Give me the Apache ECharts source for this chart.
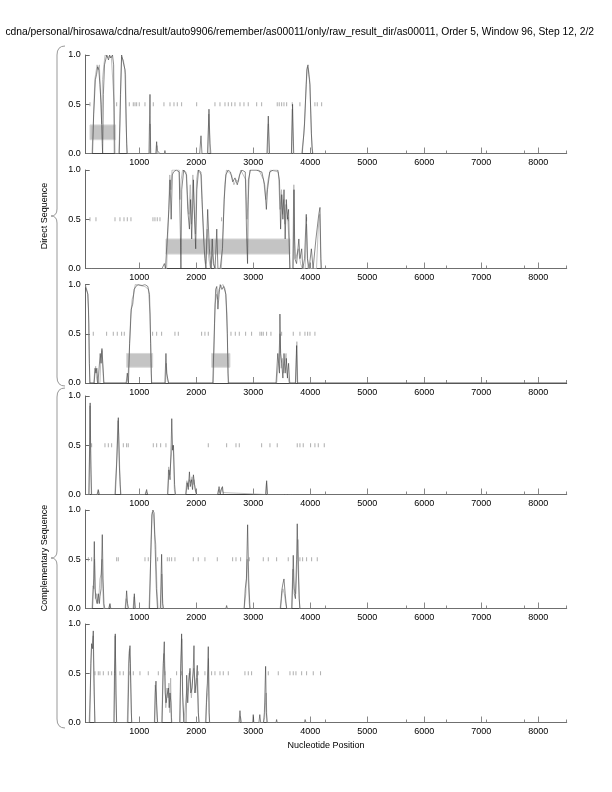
<!DOCTYPE html>
<html><head><meta charset="utf-8">
<script src="https://cdn.jsdelivr.net/npm/echarts@6/dist/echarts.min.js"></script>
<style>html,body{margin:0;padding:0;background:#fff}#c{width:612px;height:792px}</style>
</head><body><div id="c"></div>
<script>
const titleText = "cdna/personal/hirosawa/cdna/result/auto9906/remember/as00011/only/raw_result_dir/as00011, Order 5, Window 96, Step 12, 2/2";
const xMajorTicks = [1000, 2000, 3000, 4000, 5000, 6000, 7000, 8000];
const xMinorTicks = [4270, 5680, 6390, 7080, 7750, 8500];
const yTicks = [0, 0.5, 1.0];

const p1Dark = [[60,0],[180,0],[200,0.4],[230,0.75],[250,0.8],[270,0.88],[290,0.85],[310,0.7],[330,0.5],[350,0.1],[357,0],[370,0.6],[390,0.9],[410,0.95],[430,1.0],[460,0.95],[480,1.0],[500,0.97],[530,1.0],[550,0.9],[562,0.0],[575,0],[650,0],[670,0.6],[690,1.0],[710,0.95],[730,0.9],[750,0.85],[770,0.3],[785,0],[1170,0],[1188,0.6],[1200,0],[1290,0],[1305,0.12],[1315,0.03],[1340,0.05],[1360,0],[1440,0],[1450,0.03],[1460,0],[2060,0],[2083,0.18],[2100,0],[2200,0],[2223,0.45],[2245,0],[3240,0],[3264,0.38],[3285,0],[3670,0],[3690,0.5],[3710,0],[3860,0],[3900,0.3],[3940,0.85],[3960,0.9],[3975,0.8],[3995,0.7],[4020,0.2],[4040,0],[8500,0]];
const p1Gray = [[60,0],[170,0],[193,0.3],[220,0.75],[260,0.9],[280,0.85],[300,0.9],[320,0.6],[340,0.3],[355,0.75],[380,0.9],[400,1.0],[440,0.98],[470,1.0],[510,0.98],[545,1.0],[560,0.5],[575,0],[640,0],[660,0.3],[690,0.98],[720,0.95],[740,0.93],[760,0.8],[778,0.1],[790,0],[1180,0],[1190,0.3],[1200,0],[1300,0],[1310,0.08],[1320,0],[2200,0],[2220,0.4],[2240,0.1],[2260,0],[3250,0],[3265,0.3],[3280,0],[3670,0],[3685,0.45],[3700,0],[3850,0],[3890,0.2],[3930,0.7],[3950,0.88],[3970,0.85],[3990,0.75],[4010,0.4],[4030,0.05],[4050,0],[8500,0]];
const p1Marks = [135,603,825,895,925,954,1000,1100,1246,1433,1539,1609,1667,1743,2007,2328,2416,2504,2562,2621,2679,2767,2837,2912,3060,3147,3421,3456,3498,3539,3586,3684,3819,4082,4123,4200];
const p1Boxes = [[135,585,0.14,0.29]];

const p2Dark = [[60,0],[120,0],[140,0.02],[160,0],[1400,0],[1440,0.05],[1460,0],[1490,0],[1520,0.6],[1540,0.9],[1560,0.5],[1580,0.95],[1600,0.98],[1650,1.0],[1700,0.98],[1720,0.4],[1731,0],[1745,0.8],[1780,1.0],[1830,0.95],[1850,0.6],[1880,0.4],[1900,0.7],[1920,0.3],[1950,0.9],[1970,0.5],[1990,0.2],[2010,0.8],[2040,1.0],[2080,0.98],[2100,0.7],[2130,0.3],[2150,0.1],[2170,0],[2200,0.6],[2230,0.2],[2260,0],[2280,0.3],[2300,0.05],[2330,0],[2360,0.4],[2380,0],[2420,0],[2460,0.2],[2490,0.7],[2520,0.95],[2560,1.0],[2600,0.98],[2640,0.88],[2680,0.92],[2720,0.85],[2760,0.95],[2800,1.0],[2860,0.98],[2885,0.3],[2900,0.05],[2915,0.9],[2950,1.0],[3050,1.0],[3150,0.98],[3200,0.85],[3230,0.6],[3250,0.8],[3290,0.98],[3350,1.0],[3430,1.0],[3460,0.9],[3480,0.4],[3500,0.75],[3520,0.5],[3540,0.8],[3560,0.3],[3580,0.7],[3600,0.5],[3620,0.6],[3640,0],[3700,0],[3715,0.8],[3730,0.1],[3760,0.05],[3800,0.3],[3820,0.1],[3850,0.2],[3870,0],[3900,0.1],[3930,0.55],[3950,0.1],[3980,0],[4000,0],[4020,0.2],[4050,0],[4100,0.3],[4150,0.55],[4171,0.62],[4190,0],[8500,0]];
const p2Gray = [[60,0],[1480,0],[1510,0.5],[1535,0.95],[1555,0.8],[1575,1.0],[1640,1.0],[1700,1.0],[1715,0.7],[1735,0.9],[1760,1.0],[1820,0.98],[1845,0.75],[1870,0.55],[1895,0.85],[1915,0.45],[1940,0.95],[1965,0.6],[1985,0.35],[2005,0.9],[2030,1.0],[2090,0.95],[2110,0.6],[2140,0.25],[2165,0.05],[2190,0.4],[2220,0.1],[2250,0],[2290,0.15],[2320,0],[2440,0],[2470,0.4],[2500,0.85],[2530,1.0],[2620,0.95],[2660,0.85],[2700,0.9],[2740,0.88],[2780,1.0],[2870,0.9],[2890,0.5],[2910,0.7],[2940,1.0],[3100,1.0],[3180,0.9],[3220,0.7],[3260,0.9],[3300,1.0],[3440,0.98],[3470,0.6],[3495,0.8],[3515,0.55],[3535,0.7],[3555,0.45],[3575,0.65],[3600,0.55],[3625,0.3],[3650,0],[3690,0],[3712,0.85],[3725,0.3],[3745,0.1],[3790,0.2],[3830,0.05],[3860,0],[3910,0],[3935,0.45],[3960,0],[4110,0],[4140,0.4],[4165,0.55],[4185,0.1],[4200,0],[8500,0]];
const p2Marks = [135,240,574,661,732,790,854,1240,1275,1316,1363,2445,3614,3936];
const p2Boxes = [[1468,3644,0.146,0.30]];

const p3Dark = [[60,0.97],[80,0.95],[100,0.9],[115,0.6],[125,0.2],[135,0],[210,0],[225,0.15],[240,0.1],[255,0.15],[275,0],[300,0],[315,0.3],[330,0.2],[345,0.35],[360,0.2],[380,0],[770,0],[790,0.1],[810,0],[830,0.4],[860,0.75],[885,0.8],[910,0.95],[940,0.98],[980,1.0],[1050,0.99],[1100,1.0],[1150,0.98],[1180,0.9],[1200,0.4],[1215,0],[1450,0],[1468,0.3],[1480,0.1],[1500,0.08],[1515,0],[2290,0],[2320,0.6],[2340,0.95],[2360,0.98],[2380,0.75],[2400,0.9],[2420,1.0],[2450,0.95],[2480,0.98],[2520,0.9],[2545,0.5],[2562,0],[3400,0],[3430,0.3],[3460,0.1],[3468,0.7],[3480,0.3],[3500,0.2],[3520,0.05],[3540,0.3],[3560,0.1],[3580,0.25],[3600,0.05],[3620,0.2],[3640,0],[3740,0],[3761,0.38],[3775,0],[8500,0]];
const p3Gray = [[60,0.99],[90,0.92],[110,0.75],[120,0.3],[130,0],[200,0],[215,0.1],[235,0.17],[250,0.05],[270,0],[310,0],[325,0.25],[345,0.33],[365,0.1],[375,0],[780,0],[800,0.05],[825,0.3],[850,0.7],[875,0.85],[900,0.9],[930,1.0],[1100,0.98],[1160,0.95],[1190,0.7],[1210,0.1],[1220,0],[1460,0],[1475,0.2],[1490,0.05],[1510,0],[2300,0],[2330,0.8],[2355,0.9],[2375,0.85],[2395,0.95],[2430,0.98],[2470,1.0],[2510,0.95],[2540,0.7],[2555,0.1],[2570,0],[3410,0],[3440,0.2],[3470,0.5],[3490,0.15],[3510,0.25],[3530,0.1],[3550,0.2],[3575,0.3],[3595,0.1],[3630,0],[3745,0],[3765,0.42],[3780,0],[8500,0]];
const p3Marks = [193,427,544,614,690,737,1234,1305,1392,1626,1685,2094,2152,2211,2609,2685,2755,2866,2971,3117,3147,3176,3234,3310,3498,3702,3819,3907,3954,3995,4082];
const p3Boxes = [[778,1235,0.16,0.30],[2269,2591,0.16,0.30]];

const p4Dark = [[60,0],[115,0],[130,0.5],[138,0.93],[150,0.3],[160,0],[260,0],[280,0.05],[295,0],[580,0],[610,0.4],[632,0.78],[650,0.3],[673,0],[1110,0],[1129,0.05],[1145,0],[1500,0],[1520,0.25],[1540,0.15],[1560,0.5],[1570,0.77],[1585,0.45],[1600,0.5],[1620,0.1],[1635,0],[1820,0],[1840,0.12],[1860,0.05],[1880,0.23],[1895,0.08],[1915,0.15],[1935,0.05],[1950,0.2],[1970,0.1],[1990,0.03],[2010,0],[2380,0],[2400,0.08],[2420,0],[2440,0.05],[2460,0.08],[2475,0],[3220,0],[3235,0.14],[3250,0],[3650,0],[3670,0.02],[3690,0],[8500,0]];
const p4Gray = [[60,0],[120,0],[133,0.9],[145,0.5],[155,0.2],[165,0],[270,0],[285,0.04],[300,0],[570,0],[600,0.3],[625,0.75],[640,0.6],[665,0.1],[680,0],[1100,0],[1120,0.03],[1140,0.05],[1155,0],[1495,0],[1515,0.28],[1535,0.2],[1555,0.35],[1580,0.5],[1600,0.45],[1615,0.05],[1630,0],[1810,0],[1835,0.14],[1855,0.08],[1875,0.15],[1900,0.12],[1925,0.18],[1945,0.1],[1960,0.15],[1980,0.05],[2000,0],[2370,0],[2390,0.05],[2410,0.02],[2450,0.07],[2470,0.02],[2480,0],[3215,0],[3232,0.12],[3245,0],[3550,0],[3570,0.02],[3600,0],[8500,0]];
const p4Marks = [164,398,457,515,720,778,807,1246,1305,1375,1468,2211,2533,2697,2755,3147,3293,3421,3772,3819,3877,4006,4082,4141,4246];
const p4Boxes = [];

const p5Dark = [[60,0],[180,0],[200,0.3],[211,0.68],[225,0.2],[240,0.1],[260,0.05],[281,0.15],[300,0.05],[310,0.12],[330,0.2],[351,0.75],[365,0.3],[380,0.05],[395,0],[470,0],[486,0.05],[500,0],[760,0],[778,0.18],[795,0.05],[810,0],[900,0],[913,0.15],[930,0],[1180,0],[1200,0.5],[1220,0.95],[1240,1.0],[1260,0.97],[1280,0.6],[1300,0.2],[1320,0],[1370,0],[1392,0.55],[1410,0.05],[1425,0],[2520,0],[2533,0.03],[2545,0],[2840,0],[2860,0.2],[2880,0.3],[2901,0.85],[2920,0.3],[2942,0],[3480,0],[3500,0.18],[3520,0.25],[3539,0.3],[3560,0.15],[3585,0],[3680,0],[3702,0.54],[3720,0.15],[3740,0.1],[3760,0.5],[3772,0.86],[3790,0.4],[3805,0.1],[3820,0],[8500,0]];
const p5Gray = [[60,0],[170,0],[190,0.23],[205,0.2],[215,0.5],[230,0.1],[250,0.15],[270,0.05],[290,0.1],[310,0.3],[330,0.35],[345,0.5],[360,0.2],[375,0],[460,0],[480,0.04],[495,0],[750,0],[770,0.1],[790,0.08],[805,0],[890,0],[910,0.12],[925,0],[1170,0],[1190,0.3],[1210,0.7],[1230,0.98],[1250,0.95],[1270,0.75],[1290,0.65],[1310,0.2],[1330,0],[1380,0],[1395,0.35],[1415,0],[2840,0],[2870,0.15],[2895,0.5],[2910,0.3],[2930,0.05],[2945,0],[3470,0],[3495,0.1],[3520,0.2],[3545,0.15],[3570,0.05],[3590,0],[3670,0],[3695,0.4],[3715,0.2],[3745,0.15],[3765,0.4],[3785,0.7],[3800,0.3],[3815,0],[8500,0]];
const p5Marks = [106,164,603,632,1100,1158,1322,1492,1527,1568,1626,1948,2035,2152,2369,2638,2697,2778,2930,3176,3264,3410,3614,3819,3866,3936,4024,4123];
const p5Boxes = [];

const p6Dark = [[60,0],[130,0],[150,0.6],[164,0.8],[180,0.75],[193,0.93],[210,0.3],[222,0],[555,0],[565,0.5],[579,0.9],[590,0.3],[603,0],[800,0],[820,0.6],[837,0.78],[850,0.4],[866,0],[1270,0],[1282,0.3],[1293,0.42],[1305,0.2],[1322,0],[1400,0],[1422,0.6],[1439,0.82],[1455,0.3],[1470,0.2],[1490,0.28],[1510,0.35],[1525,0.15],[1539,0.3],[1555,0.2],[1565,0],[1710,0],[1725,0.5],[1743,0.9],[1760,0.3],[1784,0],[1820,0],[1832,0.48],[1850,0.2],[1870,0.4],[1890,0.55],[1905,0.3],[1925,0.35],[1945,0.5],[1960,0.78],[1975,0.3],[1995,0.4],[2018,0.58],[2035,0.1],[2050,0],[2170,0],[2182,0.3],[2195,0.4],[2211,0.77],[2225,0.1],[2235,0],[2750,0],[2767,0.12],[2785,0],[2990,0],[3000,0.08],[3010,0],[3100,0],[3115,0.08],[3130,0],[3180,0],[3195,0.1],[3205,0.3],[3217,0.57],[3230,0.1],[3245,0],[3400,0],[3410,0.03],[3420,0],[3900,0],[3910,0.03],[3925,0],[8500,0]];
const p6Gray = [[60,0],[120,0],[140,0.3],[160,0.75],[175,0.8],[190,0.88],[205,0.4],[220,0],[560,0],[575,0.88],[590,0.5],[600,0],[790,0],[815,0.7],[830,0.75],[845,0.6],[860,0.1],[870,0],[1265,0],[1280,0.38],[1295,0.3],[1310,0.05],[1320,0],[1395,0],[1415,0.5],[1430,0.7],[1450,0.5],[1465,0.15],[1485,0.35],[1505,0.25],[1520,0.4],[1535,0.1],[1550,0.45],[1565,0.05],[1575,0],[1715,0],[1730,0.6],[1748,0.85],[1765,0.2],[1780,0],[1815,0],[1830,0.3],[1850,0.35],[1875,0.5],[1895,0.4],[1915,0.25],[1935,0.45],[1955,0.55],[1970,0.45],[1990,0.3],[2010,0.45],[2030,0.25],[2045,0],[2160,0],[2180,0.2],[2200,0.3],[2215,0.65],[2230,0],[2760,0],[2775,0.06],[2790,0],[3180,0],[3200,0.05],[3215,0.2],[3228,0.3],[3240,0],[8500,0]];
const p6Marks = [223,281,310,369,457,515,574,661,720,837,895,1012,1158,1334,1451,1655,1743,1889,2035,2152,2269,2328,2416,2474,2562,2854,2913,2971,3264,3439,3644,3702,3749,3849,3936,4053,4181];
const p6Boxes = [];

const panels = [
  {dark:p1Dark, gray:p1Gray, marks:p1Marks, boxes:p1Boxes},
  {dark:p2Dark, gray:p2Gray, marks:p2Marks, boxes:p2Boxes},
  {dark:p3Dark, gray:p3Gray, marks:p3Marks, boxes:p3Boxes},
  {dark:p4Dark, gray:p4Gray, marks:p4Marks, boxes:p4Boxes},
  {dark:p5Dark, gray:p5Gray, marks:p5Marks, boxes:p5Boxes},
  {dark:p6Dark, gray:p6Gray, marks:p6Marks, boxes:p6Boxes}
];

// layout (pixels)
const gridTops = [55, 170, 284.5, 396, 510, 624];
const gridH = 98.5;
const gridLeft = 85.7, gridW = 481;
const FONT = "Liberation Sans, Arial, Helvetica, sans-serif";

const grids = [], xAxes = [], yAxes = [], series = [];
panels.forEach((p, i) => {
  grids.push({left: gridLeft, top: gridTops[i], width: gridW, height: gridH});
  xAxes.push({
    type: 'value', gridIndex: i, min: 60, max: 8500, position: 'bottom',
    axisLine: {show: true, lineStyle: {color: '#444', width: 1}},
    axisTick: {show: true, inside: true, length: 6, customValues: xMajorTicks, lineStyle: {color: '#888', width: 1}},
    axisLabel: {show: true, customValues: xMajorTicks, fontSize: 9, color: '#000', fontFamily: FONT, margin: 5, formatter: v => String(v)},
    splitLine: {show: false}
  });
  xAxes.push({
    type: 'value', gridIndex: i, min: 60, max: 8500, position: 'bottom',
    axisLine: {show: false},
    axisTick: {show: true, inside: true, length: 3, customValues: xMinorTicks, lineStyle: {color: '#888', width: 1}},
    axisLabel: {show: false},
    splitLine: {show: false}
  });
  yAxes.push({
    type: 'value', gridIndex: i, min: 0, max: 1, interval: 0.5,
    axisLine: {show: true, lineStyle: {color: '#666', width: 1}},
    axisTick: {show: true, inside: true, length: 4, lineStyle: {color: '#666'}},
    axisLabel: {fontSize: 9, color: '#000', fontFamily: FONT, margin: 5, formatter: v => v.toFixed(1)},
    splitLine: {show: false}
  });
  series.push({
    type: 'custom', xAxisIndex: 2*i, yAxisIndex: i, z: 1,
    data: p.boxes,
    renderItem: (params, api) => {
      const a = api.coord([api.value(0), api.value(3)]);
      const b = api.coord([api.value(1), api.value(2)]);
      return {type: 'rect', shape: {x: a[0], y: a[1], width: b[0]-a[0], height: b[1]-a[1]},
              style: {fill: '#c4c4c4', stroke: '#d8d8d8', lineWidth: 1}};
    },
    silent: true
  });
  series.push({
    type: 'scatter', xAxisIndex: 2*i, yAxisIndex: i, z: 2,
    data: p.marks.map(x => [x, 0.5]),
    symbol: 'rect', symbolSize: [1, 4],
    itemStyle: {color: '#9a9a9a'}, silent: true
  });
  series.push({
    type: 'line', xAxisIndex: 2*i, yAxisIndex: i, z: 3,
    data: p.gray, showSymbol: false, symbol: 'none',
    lineStyle: {color: '#b0b0b0', width: 0.8}, silent: true
  });
  series.push({
    type: 'line', xAxisIndex: 2*i, yAxisIndex: i, z: 4,
    data: p.dark, showSymbol: false, symbol: 'none',
    lineStyle: {color: '#3a3a3a', width: 0.6}, silent: true
  });
});

function brace(y0, ym, y1) {
  const xr = 65, xl = 57, xt = 51;
  const st = {stroke: '#999', lineWidth: 1, fill: null};
  return [
    {type: 'bezierCurve', shape: {x1: xr, y1: y0, cpx1: xl, cpy1: y0, x2: xl, y2: y0 + 9}, style: st},
    {type: 'line', shape: {x1: xl, y1: y0 + 9, x2: xl, y2: ym - 7}, style: st},
    {type: 'bezierCurve', shape: {x1: xl, y1: ym - 7, cpx1: xl, cpy1: ym, x2: xt, y2: ym}, style: st},
    {type: 'bezierCurve', shape: {x1: xt, y1: ym, cpx1: xl, cpy1: ym, x2: xl, y2: ym + 7}, style: st},
    {type: 'line', shape: {x1: xl, y1: ym + 7, x2: xl, y2: y1 - 9}, style: st},
    {type: 'bezierCurve', shape: {x1: xl, y1: y1 - 9, cpx1: xl, cpy1: y1, x2: xr, y2: y1}, style: st}
  ];
}

const chart = echarts.init(document.getElementById('c'), null, {renderer: 'canvas'});
chart.setOption({
  animation: false,
  backgroundColor: '#fff',
  grid: grids, xAxis: xAxes, yAxis: yAxes, series: series,
  graphic: [
    {type: 'text', x: 594, y: 32, style: {text: titleText, fontSize: 10.3, fontFamily: FONT, fill: '#000', textAlign: 'right', textVerticalAlign: 'middle'}},
    {type: 'text', x: 326, y: 746, style: {text: 'Nucleotide Position', fontSize: 9, fontFamily: FONT, fill: '#000', textAlign: 'center', textVerticalAlign: 'middle'}},
    {type: 'text', x: 45, y: 216, rotation: Math.PI/2, style: {text: 'Direct Sequence', fontSize: 9, fontFamily: FONT, fill: '#000', textAlign: 'center', textVerticalAlign: 'middle'}},
    {type: 'text', x: 45, y: 558, rotation: Math.PI/2, style: {text: 'Complementary Sequence', fontSize: 9, fontFamily: FONT, fill: '#000', textAlign: 'center', textVerticalAlign: 'middle'}}
  ].concat(brace(46, 216, 386), brace(388, 558, 728))
});
</script></body></html>
